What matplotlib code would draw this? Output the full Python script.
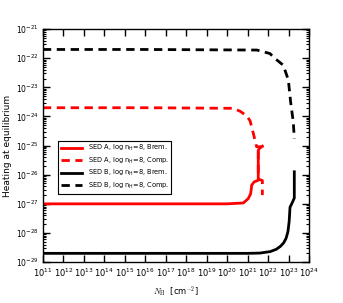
import numpy as np
import matplotlib
matplotlib.use("Agg")
import matplotlib.pyplot as plt
from matplotlib.ticker import LogLocator, NullLocator, LogFormatterMathtext

# log10(N_H) and log10(heating)
a_brem_logN = [11.0, 16.0, 20.0, 20.79, 21.03, 21.15, 21.2, 21.31, 21.52, 21.52, 21.6, 21.72]
a_brem_logH = [-27.0, -27.0, -27.0, -26.97, -26.82, -26.65, -26.36, -26.25, -26.19, -25.16, -25.08, -25.02]

a_comp_logN = [11.0, 16.0, 20.3, 20.63, 20.96, 21.12, 21.25, 21.44, 21.72, 21.52, 21.52, 21.72, 21.72]
a_comp_logH = [-23.7, -23.7, -23.72, -23.82, -23.98, -24.15, -24.5, -25.04, -25.04, -25.2, -26.15, -26.2, -26.7]

b_brem_logN = [11.0, 16.0, 21.0, 21.6, 22.1, 22.4, 22.6, 22.76, 22.88, 22.97, 23.03, 23.07, 23.2, 23.28, 23.28]
b_brem_logH = [-28.7, -28.7, -28.7, -28.69, -28.64, -28.56, -28.46, -28.34, -28.18, -27.95, -27.6, -27.12, -26.93, -26.8, -25.9]

b_comp_logN = [11.0, 16.0, 21.46, 22.09, 22.34, 22.74, 22.99, 23.1, 23.23, 23.28]
b_comp_logH = [-21.7, -21.7, -21.72, -21.84, -22.01, -22.24, -22.75, -23.5, -24.19, -24.76]

labels = ["SED A, log n$_{\\rm H}$=8, Brem.", "SED A, log n$_{\\rm H}$=8, Comp.",
          "SED B, log n$_{\\rm H}$=8, Brem.", "SED B, log n$_{\\rm H}$=8, Comp."]

fig = plt.figure(figsize=(3.43, 3.03), dpi=100)
ax = fig.add_axes([0.125, 0.135, 0.776, 0.769])

def p(x, y):
    return 10.0 ** np.array(x), 10.0 ** np.array(y)

lw = 2.0
ax.plot(*p(a_brem_logN, a_brem_logH), color="red", lw=lw, ls="-", label=labels[0])
ax.plot(*p(a_comp_logN, a_comp_logH), color="red", lw=lw, ls=(0, (3, 2)), label=labels[1])
ax.plot(*p(b_brem_logN, b_brem_logH), color="black", lw=lw, ls="-", label=labels[2])
ax.plot(*p(b_comp_logN, b_comp_logH), color="black", lw=lw, ls=(0, (3, 2)), label=labels[3])

ax.set_xscale("log")
ax.set_yscale("log")
ax.set_xlim(1e11, 1e24)
ax.set_ylim(1e-29, 1e-21)

ax.xaxis.set_major_locator(LogLocator(base=10, numticks=30))
ax.xaxis.set_minor_locator(NullLocator())
ax.yaxis.set_major_locator(LogLocator(base=10, numticks=30))
ax.yaxis.set_minor_locator(LogLocator(base=10, subs=np.arange(2, 10), numticks=30))
ax.xaxis.set_major_formatter(LogFormatterMathtext())
ax.yaxis.set_major_formatter(LogFormatterMathtext())

ax.tick_params(which="both", direction="in", top=True, right=True, labelsize=6, pad=3)
ax.tick_params(axis="y", labelsize=5.5)
ax.tick_params(which="major", length=5, width=1)
ax.tick_params(which="minor", length=2.5, width=0.8)
for s in ax.spines.values():
    s.set_linewidth(1)

ax.set_xlabel(r"$N_{\rm H}$  [cm$^{-2}$]", fontsize=6, math_fontfamily="cm", labelpad=4)
ax.set_ylabel("Heating at equilibrium", fontsize=6.5, labelpad=3)

leg = ax.legend(loc="upper left", bbox_to_anchor=(0.045, 0.536), fontsize=4.8,
                handlelength=3.2, fancybox=False, edgecolor="black", framealpha=1,
                borderpad=0.4, labelspacing=0.35, handletextpad=0.8)
leg.get_frame().set_linewidth(0.8)

fig.savefig("out.png", dpi=100)
